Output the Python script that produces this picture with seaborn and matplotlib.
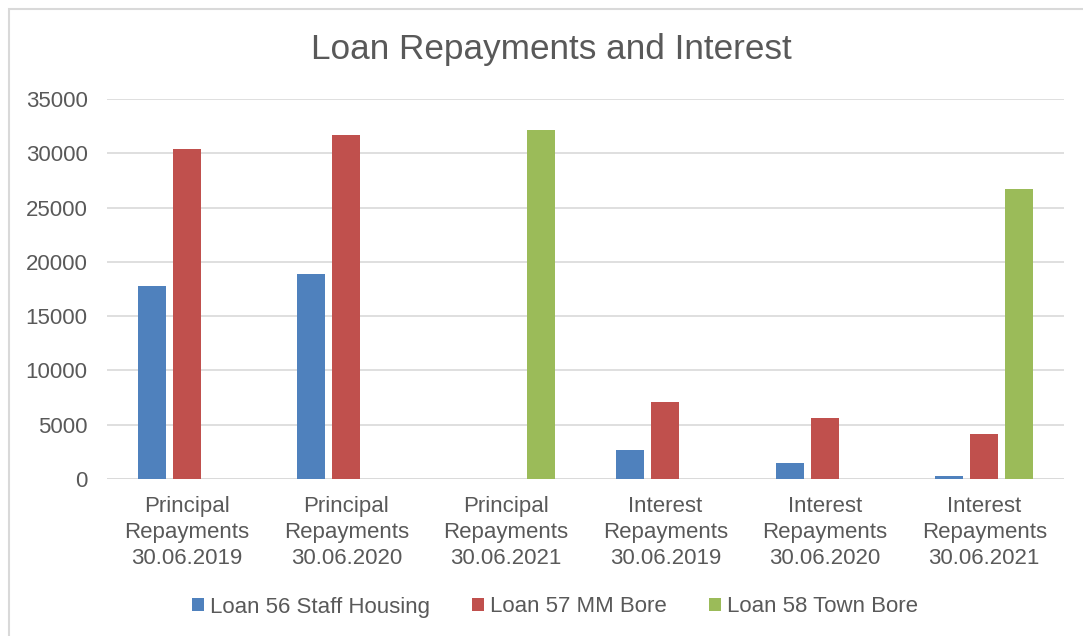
import matplotlib
matplotlib.use("Agg")
import matplotlib.pyplot as plt
from matplotlib.patches import Rectangle, Patch
import seaborn as sns
import pandas as pd

# Categories (x axis) and loan series
categories = [
    "Principal\nRepayments\n30.06.2019",
    "Principal\nRepayments\n30.06.2020",
    "Principal\nRepayments\n30.06.2021",
    "Interest\nRepayments\n30.06.2019",
    "Interest\nRepayments\n30.06.2020",
    "Interest\nRepayments\n30.06.2021",
]
series_names = ["Loan 56 Staff Housing", "Loan 57 MM Bore", "Loan 58 Town Bore"]
loan56 = [17810, 18920, 0, 2680, 1480, 250]
loan57 = [30380, 31670, 0, 7060, 5580, 4100]
loan58 = [0, 0, 32100, 0, 0, 26680]
y_ticks = [0, 5000, 10000, 15000, 20000, 25000, 30000, 35000]

colors = ["#4F81BD", "#C0504D", "#9BBB59"]
text_color = "#595959"
grid_color = "#D9D9D9"

rows = []
for name, vals in zip(series_names, [loan56, loan57, loan58]):
    for cat, v in zip(categories, vals):
        rows.append({"category": cat, "series": name, "value": v})
df = pd.DataFrame(rows)

sns.set_theme(style="white")
plt.rcParams["font.family"] = ["Liberation Sans", "DejaVu Sans"]

W, H = 1083, 636
fig = plt.figure(figsize=(W / 100, H / 100), dpi=100)
fig.patch.set_facecolor("white")

x0, x1 = 107, 1064
y0, y1 = 479, 99
ax = fig.add_axes([x0 / W, 1 - y0 / H, (x1 - x0) / W, (y0 - y1) / H])

sns.barplot(
    data=df, x="category", y="value", hue="series",
    order=categories, hue_order=series_names, palette=colors,
    width=0.66, gap=0.2, linewidth=0, saturation=1, errorbar=None,
    legend=False, ax=ax,
)

ax.set_xlim(-0.5, len(categories) - 0.5)
ax.set_ylim(0, 35000)
ax.set_yticks(y_ticks)
ax.set_yticklabels([str(t) for t in y_ticks])
ax.yaxis.grid(True, color=grid_color, linewidth=1.2)
ax.set_axisbelow(True)
for s in ax.spines.values():
    s.set_visible(False)
ax.axhline(0, color=grid_color, linewidth=1.2, zorder=0.5)
ax.set_xlabel("")
ax.set_ylabel("")
ax.tick_params(axis="both", length=0, colors=text_color, labelsize=16)
ax.tick_params(axis="y", pad=14)
ax.tick_params(axis="x", pad=12.5)
for lbl in ax.get_xticklabels():
    lbl.set_linespacing(1.3)

fig.text(551 / W, 1 - 49 / H, "Loan Repayments and Interest",
         ha="center", va="center", fontsize=25.3, color=text_color)

handles = [Patch(facecolor=c, edgecolor="none") for c in colors]
fig.legend(handles, series_names, loc="center", bbox_to_anchor=(555 / W, 1 - 607 / H),
           ncol=3, frameon=False, fontsize=16, labelcolor=text_color,
           handlelength=0.55, handleheight=0.55, handletextpad=0.25,
           columnspacing=1.9)

fig.add_artist(Rectangle((8.5 / W, -0.1), 2, (H - 9) / H + 0.1,
                         transform=fig.transFigure, fill=False,
                         edgecolor=grid_color, linewidth=1.5))

fig.savefig("out.png", dpi=100, facecolor="white")
